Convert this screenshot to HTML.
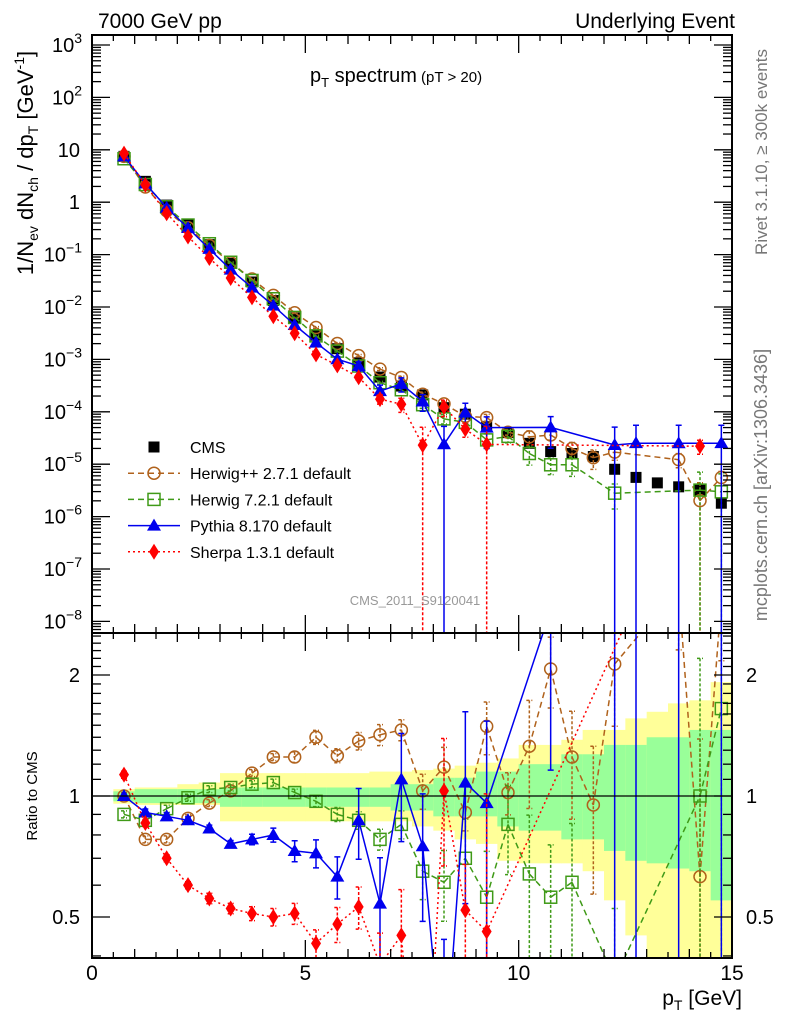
<!DOCTYPE html>
<html><head><meta charset="utf-8"><style>
html,body{margin:0;background:#fff;overflow:hidden;width:786px;height:1024px;}
svg{display:block;font-family:"Liberation Sans",Arial,sans-serif;overflow:hidden;}
</style></head><body>
<svg id="c" width="786" height="1024" viewBox="0 0 786 1024" xmlns="http://www.w3.org/2000/svg">
<defs>
<clipPath id="mainClip"><rect x="92" y="35" width="640" height="598"/></clipPath>
<clipPath id="ratioClip"><rect x="92" y="633" width="640" height="325"/></clipPath>
</defs>
<g id="bands" clip-path="url(#ratioClip)"></g>
<g id="series-main" clip-path="url(#mainClip)"></g>
<g id="series-ratio" clip-path="url(#ratioClip)"></g>
<g id="axes"></g>
<text x="98" y="28" font-size="21">7000 GeV pp</text>
<text x="735" y="28" font-size="21" text-anchor="end">Underlying Event</text>
<text x="310" y="82" font-size="20">p<tspan font-size="13" dy="5">T</tspan><tspan dy="-5"> spectrum</tspan><tspan font-size="15"> (pT &gt; 20)</tspan></text>
<text transform="translate(33,163) rotate(-90)" font-size="22" text-anchor="middle">1/N<tspan font-size="14" dy="5">ev</tspan><tspan dy="-5"> dN</tspan><tspan font-size="14" dy="5">ch</tspan><tspan dy="-5"> / dp</tspan><tspan font-size="14" dy="5">T</tspan><tspan dy="-5"> [GeV</tspan><tspan font-size="14" dy="-9">-1</tspan><tspan dy="9">]</tspan></text>
<text transform="translate(767,152) rotate(-90)" font-size="17" fill="#777" text-anchor="middle">Rivet 3.1.10, ≥ 300k events</text>
<text transform="translate(767,485) rotate(-90)" font-size="18" fill="#777" text-anchor="middle">mcplots.cern.ch [arXiv:1306.3436]</text>
<text x="415" y="605" font-size="13" fill="#999" text-anchor="middle">CMS_2011_S9120041</text>
<text transform="translate(37,796) rotate(-90)" font-size="15" text-anchor="middle">Ratio to CMS</text>
<text x="742" y="1005" font-size="21" text-anchor="end">p<tspan font-size="14" dy="5">T</tspan><tspan dy="-5"> [GeV]</tspan></text>
<g id="legend"></g>
</svg>
<script>
const pt = [0.75,1.25,1.75,2.25,2.75,3.25,3.75,4.25,4.75,5.25,5.75,6.25,6.75,7.25,7.75,8.25,8.75,9.25,9.75,10.25,10.75,11.25,11.75,12.25,12.75,13.25,13.75,14.25,14.75];
const cms = [7.5,2.5,0.88,0.37,0.155,0.068,0.030,0.0133,0.0062,0.0029,0.0016,0.00086,0.00046,0.00031,0.00021,0.00012,0.00009,0.000052,0.00004,0.000025,0.0000174,0.000016,0.000014,0.000008,0.0000056,0.0000044,0.0000037,0.0000032,0.0000018];
const hppRatio = [1.0,0.78,0.78,0.88,0.96,1.03,1.14,1.25,1.25,1.40,1.26,1.37,1.42,1.46,1.03,1.18,0.91,1.49,1.02,1.33,2.07,1.25,0.95,2.13,null,null,3.3,0.63,3.1];
const hw7Ratio = [0.90,0.87,0.93,0.99,1.04,1.05,1.07,1.08,1.02,0.97,0.90,0.87,0.78,0.85,0.65,0.61,0.70,0.56,0.85,0.64,0.56,0.61,null,0.35,null,null,null,1.0,1.65];
const pyRatio = [1.0,0.91,0.89,0.87,0.83,0.76,0.78,0.80,0.73,0.72,0.63,0.87,0.54,1.10,0.75,0.2,1.08,0.96,null,null,2.9,null,null,2.9,4.5,null,6.8,null,14];
const shRatio = [1.13,0.857,0.70,0.60,0.556,0.525,0.51,0.50,0.51,0.43,0.48,0.53,0.38,0.45,0.11,1.03,0.52,0.46,null,null,null,null,null,null,null,null,null,6.9,null];
const hppErr = [.02,.02,.02,.02,.02,.02,.02,.02,.03,.04,.04,.05,.06,.06,.1,.12,.1,.15,.12,.3,.2,.3,.4,.3,0,0,.3,1.2,.3];
const hw7Err = [.02,.02,.02,.02,.02,.02,.02,.02,.02,.03,.04,.05,.06,.08,.15,.2,.25,.3,.25,.4,.35,.4,0,.5,0,0,0,1.2,1.2];
const pyErr = [.01,.02,.02,.02,.02,.02,.03,.04,.06,.08,.12,.2,.3,.3,.35,1.2,.5,.6,0,0,.6,0,0,1.2,1.2,0,1.2,0,1.2];
const shErr = [.02,.02,.02,.02,.03,.03,.04,.05,.06,.08,.1,.12,.2,.3,1.2,.35,.3,1.2,0,0,0,0,0,0,0,0,0,.3,0];
const binEdges = [0.5,1,1.5,2,2.5,3,3.5,4,4.5,5,5.5,6,6.5,7,7.5,8,8.5,9,9.5,10,10.5,11,11.5,12,12.5,13,13.5,14,14.5,15];
const yellowUp = [1.04,1.05,1.05,1.07,1.08,1.14,1.14,1.14,1.14,1.14,1.14,1.14,1.15,1.15,1.16,1.17,1.19,1.21,1.24,1.34,1.34,1.38,1.46,1.46,1.56,1.62,1.70,1.73,1.92];
const yellowDn = [0.957,0.95,0.95,0.95,0.95,0.865,0.865,0.865,0.865,0.865,0.865,0.865,0.865,0.865,0.84,0.82,0.78,0.76,0.69,0.68,0.68,0.68,0.65,0.55,0.45,0.38,0.38,0.38,0.38];
const greenUp = [1.027,1.04,1.04,1.04,1.04,1.05,1.05,1.05,1.05,1.05,1.05,1.05,1.05,1.07,1.07,1.11,1.11,1.15,1.15,1.20,1.20,1.27,1.27,1.34,1.34,1.40,1.40,1.46,1.46];
const greenDn = [0.97,0.96,0.96,0.96,0.96,0.94,0.94,0.94,0.94,0.94,0.94,0.94,0.94,0.92,0.92,0.89,0.89,0.89,0.84,0.82,0.82,0.78,0.78,0.73,0.69,0.68,0.66,0.65,0.55];
const xTicks = [0,5,10,15];
const yExps = [3,2,-1,-2,-3,-4,-5,-6,-7,-8];
const ratioTicks = [0.5,1,2];

const NS='http://www.w3.org/2000/svg';
const X = p => 92 + 42.667*p;
const Y = v => 45 + (3 - Math.log10(v))*52.4;
const R = r => 796 - 121*Math.log2(r);
const clampY = (y,a,b) => Math.max(a-5,Math.min(b+5,y));
function mk(tag, attrs, parent){const e=document.createElementNS(NS,tag);for(const k in attrs)e.setAttribute(k,attrs[k]);parent.appendChild(e);return e;}
// clip a segment to y range [a,b]; returns null if fully outside
function clipSeg(x1,y1,x2,y2,a,b){
  let t0=0,t1=1; const dy=y2-y1;
  if(dy===0){ if(y1<a||y1>b) return null; return [x1,y1,x2,y2]; }
  let ta=(a-y1)/dy, tb=(b-y1)/dy; let lo=Math.min(ta,tb), hi=Math.max(ta,tb);
  t0=Math.max(t0,lo); t1=Math.min(t1,hi); if(t0>t1) return null;
  return [x1+(x2-x1)*t0,y1+dy*t0,x1+(x2-x1)*t1,y1+dy*t1];
}
const sm=document.getElementById('series-main'), sr=document.getElementById('series-ratio'), ax=document.getElementById('axes'), bands=document.getElementById('bands'), lg=document.getElementById('legend');

for(let i=0;i<yellowUp.length;i++){
  const x0=X(binEdges[i]), x1=X(binEdges[i+1]??15);
  const yu=clampY(R(yellowUp[i]),633,958), yd=clampY(R(yellowDn[i]),633,958);
  let e=mk('rect',{x:x0,y:yu,width:x1-x0+0.5,height:yd-yu,fill:'#ffff99'},bands);
  
  
  const gu=clampY(R(greenUp[i]),633,958), gd=clampY(R(greenDn[i]),633,958);
  e=mk('rect',{x:x0,y:gu,width:x1-x0+0.5,height:gd-gu,fill:'#99ff99'},bands);
  
  
}
mk('line',{x1:92,x2:732,y1:R(1),y2:R(1),stroke:'#000','stroke-width':1.3},ax);

function marker(type,x,y,col,g){
  let e;
  if(type==='circle') e=mk('circle',{cx:x,cy:y,r:6,fill:'none',stroke:col,'stroke-width':1.5},g);
  else if(type==='osq') e=mk('rect',{x:x-6,y:y-6,width:12,height:12,fill:'none',stroke:col,'stroke-width':1.5},g);
  else if(type==='sq') e=mk('rect',{x:x-5.5,y:y-5.5,width:11,height:11,fill:col},g);
  else if(type==='tri') e=mk('polygon',{points:`${x},${y-7} ${x-7},${y+5} ${x+7},${y+5}`,fill:col},g);
  else e=mk('polygon',{points:`${x},${y-8} ${x-5},${y} ${x},${y+8} ${x+5},${y}`,fill:col},g);
  return e;
}
const series=[
 {name:'herwigpp',ratio:hppRatio,err:hppErr,col:'#b0621c',dash:'6,4',m:'circle',label:'Herwig++ 2.7.1 default'},
 {name:'herwig7',ratio:hw7Ratio,err:hw7Err,col:'#3f9a17',dash:'6,4',m:'osq',label:'Herwig 7.2.1 default'},
 {name:'pythia',ratio:pyRatio,err:pyErr,col:'#0000ee',dash:'',m:'tri',label:'Pythia 8.170 default'},
 {name:'sherpa',ratio:shRatio,err:shErr,col:'#ff0000',dash:'2,3',m:'dia',label:'Sherpa 1.3.1 default'}
];
cms.forEach((v,i)=>{
  const m=marker('sq',X(pt[i]),Y(v),'#000',sm);
  
  
});
series.forEach(s=>{
  [[sm,35,633,(v)=>Y(v),(i)=>cms[i]*s.ratio[i]],[sr,633,958,(v)=>R(v),(i)=>s.ratio[i]]].forEach(([g,top,bot,fy,val])=>{
    const sg=mk('g',{},g);
    
    
    const pts=[];
    pt.forEach((p,i)=>{ if(s.ratio[i]!=null) pts.push([X(p),fy(val(i))]); });
    let d='';
    for(let k=0;k+1<pts.length;k++){
      const c=clipSeg(pts[k][0],pts[k][1],pts[k+1][0],pts[k+1][1],top-1,bot+1);
      if(c) d+=`M${c[0].toFixed(1)},${c[1].toFixed(1)}L${c[2].toFixed(1)},${c[3].toFixed(1)}`;
    }
    const ln=mk('path',{d:d,fill:'none',stroke:s.col,'stroke-width':1.5,'stroke-dasharray':s.dash},sg);
    
    
    pt.forEach((p,i)=>{
      if(s.ratio[i]==null) return;
      const e=s.err[i];
      if(e>0){
        const y1=clampY(fy(val(i)*(1+e)),top,bot);
        const lo=val(i)*(1-e);
        const y2=lo>0?clampY(fy(lo),top,bot):bot+5;
        const eb=mk('path',{d:`M${X(p)},${y1}V${y2}M${X(p)-3},${y1}h6M${X(p)-3},${y2}h6`,stroke:s.col,'stroke-width':1.5,fill:'none','stroke-dasharray':s.dash?'3,2':''},sg);
        
        
      }
      const y=fy(val(i));
      if(y<top-10||y>bot+10) return;
      const mm=marker(s.m,X(p),y,s.col,sg);
      
      
    });
  });
});

[[35,598],[633,325]].forEach(([y,h],k)=>{
  const f=mk('rect',{x:92,y:y,width:640,height:h,fill:'none',stroke:'#000','stroke-width':2},ax);
  
  
});
for(let k=0;k<=30;k++){
  const p=k*0.5, x=X(p), len=(k%10===0)?18:(k%2===0?9:6);
  [[633,-1],[958,-1],[35,1],[633,1]].forEach(([y,dir])=>{mk('line',{x1:x,x2:x,y1:y,y2:y+dir*len,stroke:'#000','stroke-width':1.3},ax);});
}
xTicks.forEach(v=>{
  const t=mk('text',{x:X(v),y:980,'font-size':21,'text-anchor':'middle'},ax);t.textContent=v;
  
  
});
for(let e=-9;e<=3;e++){
  for(let m=1;m<10;m++){
    const v=m*Math.pow(10,e), y=Y(v);
    if(y<35||y>633) continue;
    const len=m===1?18:9;
    mk('line',{x1:92,x2:92+len,y1:y,y2:y,stroke:'#000','stroke-width':1.3},ax);
    mk('line',{x1:732,x2:732-len,y1:y,y2:y,stroke:'#000','stroke-width':1.3},ax);
  }
}
yExps.forEach(e=>{
  const t=mk('text',{x:82,y:Y(Math.pow(10,e))+7,'font-size':20,'text-anchor':'end'},ax);
  t.innerHTML='10<tspan font-size="14" dy="-9">'+(e<0?'\u2212'+(-e):e)+'</tspan>';
  
  
});
[[10,'10'],[1,'1']].forEach(([v,s])=>{
  const t=mk('text',{x:80,y:Y(v)+7,'font-size':20,'text-anchor':'end'},ax);t.textContent=s;
  
  
});
for(let r=0.4;r<2.55;r+=0.1){
  const rr=Math.round(r*10)/10, y=R(rr);
  if(y<633||y>958) continue;
  const len=(rr===0.5||rr===1||rr===2)?18:9;
  mk('line',{x1:92,x2:92+len,y1:y,y2:y,stroke:'#000','stroke-width':1.3},ax);
  mk('line',{x1:732,x2:732-len,y1:y,y2:y,stroke:'#000','stroke-width':1.3},ax);
}
ratioTicks.forEach(v=>{
  [[80,'end'],[746,'start']].forEach(([x,a])=>{
    const t=mk('text',{x:x,y:R(v)+7,'font-size':20,'text-anchor':a},ax);t.textContent=v;
    
    
  });
});
const entries=[{label:'CMS',m:'sq',col:'#000',dash:null}].concat(series);
entries.forEach((s,i)=>{
  const y=447+i*26.2;
  const g=mk('g',{},lg);
  
  
  if(s.dash!==null) mk('line',{x1:128,x2:180,y1:y,y2:y,stroke:s.col,'stroke-width':1.5,'stroke-dasharray':s.dash},g);
  marker(s.m,154,y,s.col,g);
  const t=mk('text',{x:190,y:y+6,'font-size':16},g);t.textContent=s.label;
});
</script>
</body></html>
